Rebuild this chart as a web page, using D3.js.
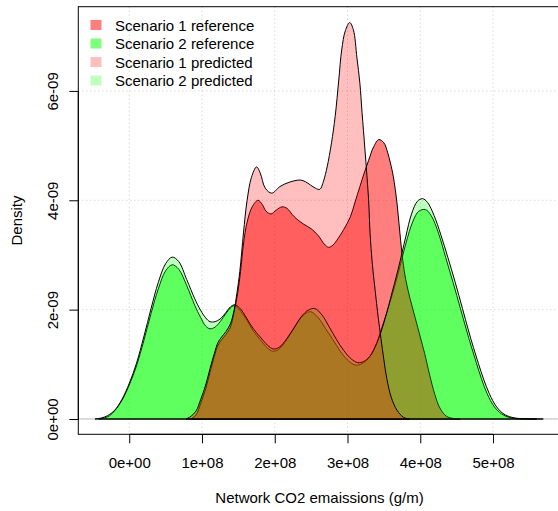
<!DOCTYPE html>
<html>
<head>
<meta charset="utf-8">
<script src="https://cdn.jsdelivr.net/npm/d3@7"></script>
<style>
  html, body { margin: 0; padding: 0; background: #fff; }
  svg { display: block; font-family: "Liberation Sans", Arial, sans-serif; }
</style>
</head>
<body>
<svg id="chart" width="558" height="511"></svg>
<script>
// x in units of 1e8 g/m, y (density) in units of 1e-9
const xTicks = [0, 1, 2, 3, 4, 5];
const xTickLabels = ["0e+00", "1e+08", "2e+08", "3e+08", "4e+08", "5e+08"];
const yTicks = [0, 2, 4, 6];
const yTickLabels = ["0e+00", "2e-09", "4e-09", "6e-09"];

const seriesNames = ["Scenario 1 reference", "Scenario 2 reference", "Scenario 1 predicted", "Scenario 2 predicted"];

const s2Ref = [[-0.42,0],[-0.34,0.02],[-0.27,0.06],[-0.2,0.15],[-0.1,0.34],[0.0,0.62],[0.1,0.97],[0.2,1.43],[0.3,1.93],[0.4,2.38],[0.5,2.71],[0.59,2.82],[0.68,2.74],[0.79,2.44],[0.9,2.08],[0.98,1.86],[1.05,1.7],[1.11,1.65],[1.18,1.68],[1.25,1.78],[1.33,1.93],[1.39,2.03],[1.44,2.07],[1.5,2.02],[1.57,1.9],[1.62,1.8],[1.7,1.62],[1.8,1.45],[1.9,1.3],[1.97,1.24],[2.05,1.27],[2.15,1.42],[2.26,1.65],[2.36,1.85],[2.45,1.95],[2.5,1.96],[2.6,1.85],[2.7,1.65],[2.8,1.45],[2.9,1.24],[3.0,1.08],[3.1,0.99],[3.18,1.0],[3.28,1.1],[3.38,1.32],[3.48,1.7],[3.59,2.16],[3.7,2.68],[3.8,3.2],[3.9,3.62],[3.98,3.8],[4.07,3.83],[4.15,3.72],[4.25,3.4],[4.35,2.95],[4.45,2.5],[4.55,2.03],[4.63,1.65],[4.7,1.33],[4.77,1.03],[4.84,0.74],[4.92,0.46],[5.02,0.22],[5.12,0.09],[5.22,0.03],[5.35,0.005],[5.6,0]];

const s2Pred = [[-0.47,0],[-0.38,0.02],[-0.3,0.06],[-0.2,0.16],[-0.1,0.36],[0.0,0.65],[0.1,1.02],[0.2,1.5],[0.3,2.02],[0.4,2.5],[0.5,2.84],[0.59,2.96],[0.68,2.88],[0.79,2.55],[0.9,2.2],[0.98,1.99],[1.05,1.85],[1.11,1.78],[1.18,1.78],[1.25,1.83],[1.33,1.95],[1.39,2.05],[1.45,2.09],[1.51,2.04],[1.57,1.94],[1.62,1.83],[1.7,1.66],[1.8,1.5],[1.9,1.35],[1.98,1.28],[2.06,1.31],[2.16,1.46],[2.27,1.68],[2.37,1.88],[2.46,1.99],[2.55,2.02],[2.65,1.9],[2.75,1.68],[2.85,1.45],[2.95,1.25],[3.05,1.1],[3.14,1.03],[3.22,1.05],[3.31,1.15],[3.4,1.38],[3.5,1.76],[3.59,2.2],[3.7,2.76],[3.8,3.33],[3.88,3.75],[3.96,3.98],[4.03,4.03],[4.1,3.96],[4.19,3.72],[4.28,3.38],[4.38,2.95],[4.48,2.5],[4.58,2.02],[4.66,1.63],[4.73,1.31],[4.8,1.01],[4.87,0.73],[4.95,0.46],[5.05,0.22],[5.15,0.09],[5.26,0.03],[5.4,0.005],[5.69,0]];

const s1Ref = [[0.85,0],[0.92,0.08],[0.98,0.28],[1.05,0.55],[1.11,0.85],[1.17,1.15],[1.22,1.35],[1.27,1.45],[1.33,1.55],[1.39,1.68],[1.44,1.95],[1.49,2.3],[1.53,2.7],[1.57,3.2],[1.62,3.6],[1.69,3.88],[1.77,4.0],[1.83,3.92],[1.88,3.8],[1.95,3.75],[2.02,3.82],[2.1,3.88],[2.17,3.85],[2.24,3.74],[2.3,3.66],[2.4,3.56],[2.5,3.48],[2.6,3.35],[2.68,3.2],[2.74,3.14],[2.8,3.18],[2.87,3.3],[2.95,3.47],[3.04,3.7],[3.1,3.95],[3.17,4.25],[3.23,4.5],[3.29,4.73],[3.36,4.98],[3.43,5.11],[3.5,5.05],[3.55,4.88],[3.59,4.68],[3.63,4.43],[3.68,3.95],[3.72,3.4],[3.76,2.9],[3.8,2.55],[3.86,2.2],[3.93,1.85],[4.0,1.5],[4.06,1.2],[4.13,0.8],[4.2,0.45],[4.27,0.2],[4.36,0.05],[4.45,0.01],[4.55,0]];

const s1Pred = [[0.78,0],[0.85,0.05],[0.92,0.15],[0.98,0.35],[1.05,0.62],[1.11,0.92],[1.17,1.2],[1.22,1.4],[1.27,1.5],[1.33,1.6],[1.39,1.74],[1.44,1.98],[1.48,2.3],[1.52,2.7],[1.57,3.4],[1.62,4.0],[1.68,4.42],[1.75,4.61],[1.8,4.5],[1.87,4.22],[1.96,4.13],[2.07,4.25],[2.2,4.33],[2.35,4.37],[2.42,4.34],[2.49,4.28],[2.56,4.22],[2.62,4.2],[2.67,4.35],[2.72,4.61],[2.78,5.05],[2.83,5.53],[2.88,6.2],[2.92,6.75],[2.97,7.1],[3.03,7.25],[3.08,7.12],[3.13,6.6],[3.17,6.14],[3.2,5.6],[3.24,4.92],[3.29,4.0],[3.31,3.4],[3.34,2.85],[3.38,2.35],[3.42,1.88],[3.46,1.47],[3.5,1.08],[3.54,0.74],[3.6,0.4],[3.68,0.16],[3.77,0.03],[3.85,0]];

const svg = d3.select("#chart");
const plotL = 78.3, plotR = 560.7, plotT = 6.7, plotB = 434.3;
const x = d3.scaleLinear().domain([-0.70, 5.93]).range([plotL, plotR]);
const y = d3.scaleLinear().domain([-0.28, 7.54]).range([plotB, plotT]);

// grid
const grid = svg.append("g");
xTicks.forEach(t => grid.append("line")
  .attr("x1", x(t)).attr("x2", x(t)).attr("y1", plotT).attr("y2", plotB)
  .attr("stroke", "#c8c8c8").attr("stroke-dasharray", "1,3"));
yTicks.forEach(t => grid.append("line")
  .attr("x1", plotL).attr("x2", plotR).attr("y1", y(t)).attr("y2", y(t))
  .attr("stroke", "#c8c8c8").attr("stroke-dasharray", "1,3"));

// zero line
svg.append("line").attr("x1", plotL).attr("x2", plotR).attr("y1", y(0)).attr("y2", y(0))
  .attr("stroke", "#bebebe").attr("stroke-width", 1);

const line = d3.line().x(d => x(d[0])).y(d => y(Math.max(0, d[1])))
  .curve(d3.curveCatmullRom.alpha(0.5));

const layers = [
  { data: s2Ref, color: "rgba(0,255,0,0.5)" },
  { data: s1Ref, color: "rgba(255,0,0,0.5)" },
  { data: s2Pred, color: "rgba(0,255,0,0.25)" },
  { data: s1Pred, color: "rgba(255,0,0,0.25)" }
];
layers.forEach(l => {
  svg.append("path").attr("d", line(l.data) + "Z")
    .attr("fill", l.color).attr("stroke", "#000").attr("stroke-width", 1)
    .attr("stroke-linejoin", "round");
});

// box
svg.append("rect").attr("x", plotL).attr("y", plotT)
  .attr("width", plotR - plotL).attr("height", plotB - plotT)
  .attr("fill", "none").attr("stroke", "#000").attr("stroke-width", 1);

// x axis
const xAxis = d3.axisBottom(x).tickValues(xTicks).tickSize(9).tickPadding(5)
  .tickFormat((d, i) => xTickLabels[i]);
const gx = svg.append("g").attr("transform", `translate(0,${plotB})`).call(xAxis);
gx.select(".domain").attr("d", `M${x(xTicks[0])},0H${x(xTicks[xTicks.length-1])}`);
gx.selectAll("text").attr("font-size", 15).attr("font-family", "Liberation Sans, Arial, sans-serif")
  .attr("fill", "#000").attr("dy", null).attr("y", 34.2);

// y axis
const yAxis = d3.axisLeft(y).tickValues(yTicks).tickSize(9)
  .tickFormat((d, i) => yTickLabels[i]);
const gy = svg.append("g").attr("transform", `translate(${plotL},0)`).call(yAxis);
gy.select(".domain").attr("d", `M0,${y(yTicks[0])}V${y(yTicks[yTicks.length-1])}`);
gy.selectAll(".tick text")
  .attr("font-size", 15).attr("font-family", "Liberation Sans, Arial, sans-serif")
  .attr("fill", "#000").attr("x", null).attr("dy", null)
  .attr("text-anchor", "middle")
  .attr("transform", "translate(-20.5,0) rotate(-90)");

// axis titles
svg.append("text").attr("x", (plotL + plotR) / 2).attr("y", 503)
  .attr("text-anchor", "middle").attr("font-size", 15).attr("fill", "#000")
  .text("Network CO2 emaissions (g/m)");
svg.append("text").attr("transform", `translate(21.5,${(plotT + plotB) / 2}) rotate(-90)`)
  .attr("text-anchor", "middle").attr("font-size", 15).attr("fill", "#000")
  .text("Density");

// legend
const legendColors = ["rgba(255,0,0,0.5)", "rgba(0,255,0,0.5)", "rgba(255,0,0,0.25)", "rgba(0,255,0,0.25)"];
const lg = svg.append("g");
seriesNames.forEach((name, i) => {
  const cy = 25 + i * 18.5;
  lg.append("rect").attr("x", 90.5).attr("y", cy - 5).attr("width", 11).attr("height", 10)
    .attr("fill", legendColors[i]);
  lg.append("text").attr("x", 115).attr("y", cy + 5.5).attr("font-size", 15).attr("fill", "#000")
    .text(name);
});
</script>
</body>
</html>
